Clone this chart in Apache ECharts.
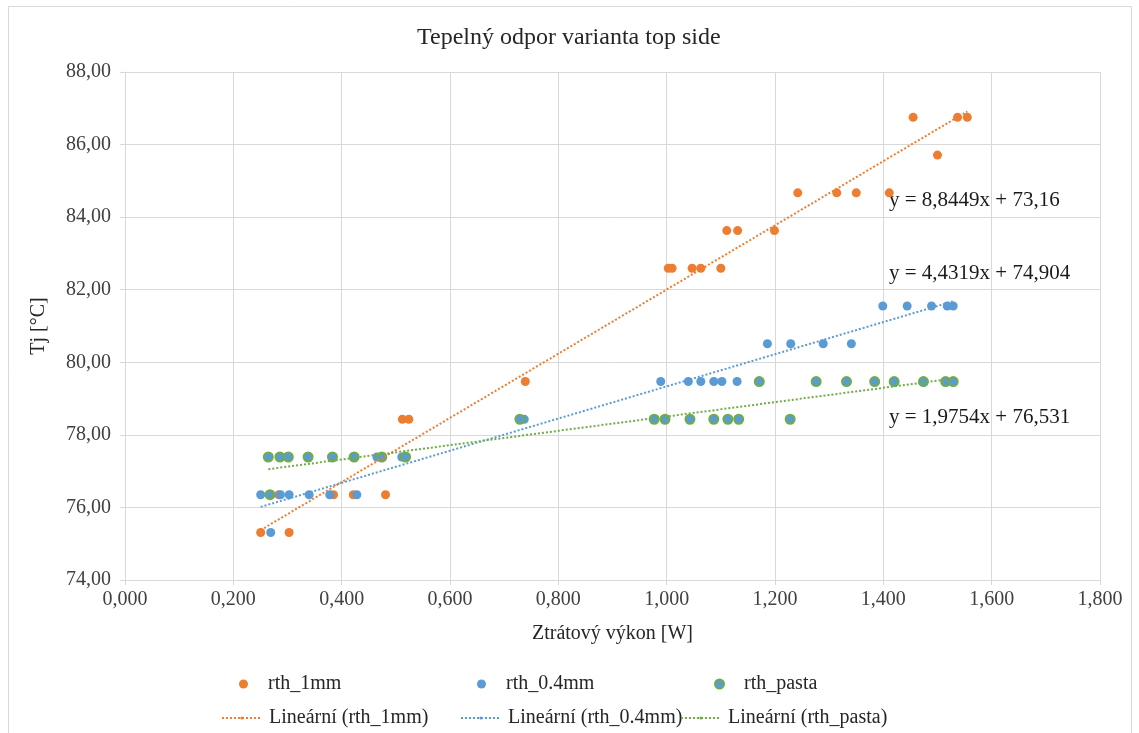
<!DOCTYPE html>
<html>
<head>
<meta charset="utf-8">
<title>Tepelný odpor varianta top side</title>
<script src="https://cdn.jsdelivr.net/npm/echarts@6/dist/echarts.min.js"></script>
<style>
	html, body { margin: 0; padding: 0; background: #fff; }
	#chart { width: 1139px; height: 733px; }
</style>
</head>
<body>
<div id="chart"></div>
<script>
"use strict";

// series names
var seriesNames = ['rth_1mm', 'rth_0.4mm', 'rth_pasta'];
var trendNames = ['Lineární (rth_1mm)', 'Lineární (rth_0.4mm)', 'Lineární (rth_pasta)'];

// rth_1mm
var x1mm = [0.2505, 0.303, 0.284, 0.385, 0.4215, 0.481, 0.512, 0.524, 0.739,
	1.003, 1.010, 1.047, 1.063, 1.100, 1.111, 1.131, 1.199,
	1.242, 1.314, 1.350, 1.411, 1.500, 1.455, 1.537, 1.555];
var y1mm = [75.31, 75.31, 76.35, 76.35, 76.35, 76.35, 78.43, 78.43, 79.47,
	82.59, 82.59, 82.59, 82.59, 82.59, 83.63, 83.63, 83.63,
	84.67, 84.67, 84.67, 84.67, 85.71, 86.75, 86.75, 86.75];

// rth_0.4mm
var x04mm = [0.269, 0.2505, 0.287, 0.303, 0.340, 0.378, 0.428, 0.465, 0.511, 0.737,
	0.989, 1.040, 1.063, 1.087, 1.102, 1.130, 1.186, 1.229, 1.289, 1.341,
	1.399, 1.444, 1.489, 1.518, 1.529];
var y04mm = [75.31, 76.35, 76.35, 76.35, 76.35, 76.35, 76.35, 77.39, 77.39, 78.43,
	79.47, 79.47, 79.47, 79.47, 79.47, 79.47, 80.51, 80.51, 80.51, 80.51,
	81.55, 81.55, 81.55, 81.55, 81.55];

// rth_pasta
var xPasta = [0.2677, 0.2646, 0.286, 0.3015, 0.338, 0.383, 0.423, 0.474, 0.518,
	0.729, 0.977, 0.997, 1.043, 1.087, 1.113, 1.133, 1.228,
	1.171, 1.276, 1.332, 1.384, 1.420, 1.474, 1.515, 1.529];
var yPasta = [76.35, 77.39, 77.39, 77.39, 77.39, 77.39, 77.39, 77.39, 77.39,
	78.43, 78.43, 78.43, 78.43, 78.43, 78.43, 78.43, 78.43,
	79.47, 79.47, 79.47, 79.47, 79.47, 79.47, 79.47, 79.47];

// trendline coefficients as printed on the chart
var trendSlope = [8.8449, 4.4319, 1.9754];
var trendIntercept = [73.16, 74.904, 76.531];
var trendLabels = ['y = 8,8449x + 73,16', 'y = 4,4319x + 74,904', 'y = 1,9754x + 76,531'];

// axis ranges [min, max, step]
var xRange = [0, 1.8, 0.2];
var yRange = [74, 88, 2];

var colors = ['#ED7D31', '#5B9BD5', '#70AD47'];
var FONT = '"Liberation Serif", "Times New Roman", serif';

function zip(xs, ys) {
	return xs.map(function (x, i) { return [x, ys[i]]; });
}

function trendData(xs, k) {
	var lo = Math.min.apply(null, xs);
	var hi = Math.max.apply(null, xs);
	return [[lo, trendSlope[k] * lo + trendIntercept[k]], [hi, trendSlope[k] * hi + trendIntercept[k]]];
}

var xsAll = [x1mm, x04mm, xPasta];
var ysAll = [y1mm, y04mm, yPasta];

var series = [];
xsAll.forEach(function (xs, k) {
	series.push({
		name: seriesNames[k],
		type: 'scatter',
		symbol: 'circle',
		symbolSize: 9,
		z: 2 + k,
		itemStyle: k === 2
			? { color: colors[1], borderColor: colors[2], borderWidth: 2, opacity: 1 }
			: { color: colors[k], opacity: 1 },
		data: zip(xs, ysAll[k])
	});
});
xsAll.forEach(function (xs, k) {
	series.push({
		name: trendNames[k],
		type: 'line',
		showSymbol: false,
		symbol: 'none',
		z: 6,
		silent: true,
		itemStyle: { color: colors[k] },
		lineStyle: { color: colors[k], width: 2, type: [2, 2] },
		data: trendData(xs, k)
	});
});

// legend: one block per entry, laid out like the original two rows
var legendPos = [
	{ name: seriesNames[0], left: 239, top: 674, marker: true },
	{ name: seriesNames[1], left: 477, top: 674, marker: true },
	{ name: seriesNames[2], left: 714, top: 674, marker: true },
	{ name: trendNames[0], left: 221, top: 708, marker: false },
	{ name: trendNames[1], left: 460, top: 708, marker: false },
	{ name: trendNames[2], left: 680, top: 708, marker: false }
];
var legends = legendPos.map(function (p) {
	return {
		data: [p.name],
		left: p.left,
		top: p.top,
		padding: 0,
		selectedMode: false,
		itemWidth: p.marker ? 9 : 40,
		itemHeight: p.marker ? 9 : 4,
		textStyle: {
			fontFamily: FONT, fontSize: 20, color: '#262626',
			padding: p.marker ? [0, 0, 0, 15] : [0, 0, 0, 2]
		}
	};
});

var graphics = trendLabels.map(function (t, k) {
	return {
		type: 'text',
		left: 889,
		top: [190, 263, 407][k],
		style: { text: t, font: '21px ' + FONT, fill: '#1a1a1a' }
	};
});
// chart area border
graphics.push({
	type: 'rect',
	shape: { x: 8.5, y: 6.5, width: 1123, height: 740 },
	style: { fill: null, stroke: '#D9D9D9', lineWidth: 1 },
	z: -1
});

var chart = echarts.init(document.getElementById('chart'), null, { renderer: 'canvas' });
chart.setOption({
	animation: false,
	backgroundColor: '#fff',
	title: {
		text: 'Tepelný odpor varianta top side',
		left: 412,
		top: 21,
		textStyle: { fontFamily: FONT, fontSize: 24, fontWeight: 'normal', color: '#262626' }
	},
	grid: { left: 125, right: 39, top: 72, bottom: 153 },
	xAxis: {
		type: 'value',
		min: xRange[0], max: xRange[1], interval: xRange[2],
		name: 'Ztrátový výkon [W]',
		nameLocation: 'middle',
		nameGap: 44,
		nameTextStyle: { fontFamily: FONT, fontSize: 20, color: '#262626' },
		axisLine: { show: true, lineStyle: { color: '#D9D9D9', width: 1 } },
		axisTick: { show: true, inside: false, length: 5, lineStyle: { color: '#D9D9D9' } },
		axisLabel: {
			fontFamily: FONT, fontSize: 20, color: '#404040', margin: 10,
			formatter: function (v) { return v.toFixed(3).replace('.', ','); }
		},
		splitLine: { show: true, lineStyle: { color: '#D9D9D9', width: 1 } }
	},
	yAxis: {
		type: 'value',
		min: yRange[0], max: yRange[1], interval: yRange[2],
		name: 'Tj [°C]',
		nameLocation: 'middle',
		nameGap: 76,
		nameRotate: 90,
		nameTextStyle: { fontFamily: FONT, fontSize: 20, color: '#262626' },
		axisLine: { show: true, lineStyle: { color: '#D9D9D9', width: 1 } },
		axisTick: { show: true, inside: false, length: 5, lineStyle: { color: '#D9D9D9' } },
		axisLabel: {
			fontFamily: FONT, fontSize: 20, color: '#404040', margin: 14,
			formatter: function (v) { return v.toFixed(2).replace('.', ','); }
		},
		splitLine: { show: true, lineStyle: { color: '#D9D9D9', width: 1 } }
	},
	legend: legends,
	graphic: graphics,
	series: series
});
</script>
</body>
</html>
